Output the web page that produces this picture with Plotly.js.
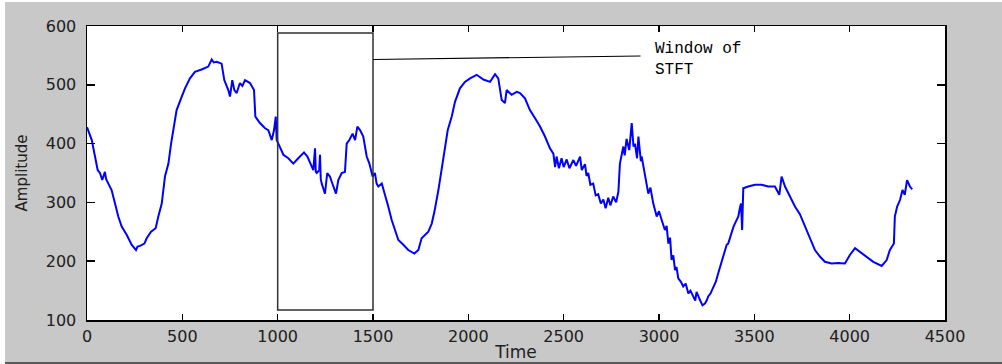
<!DOCTYPE html>
<html>
<head>
<meta charset="utf-8">
<script src="https://cdn.plot.ly/plotly-3.0.1.min.js"></script>
<style>
  html, body { margin: 0; padding: 0; background: #ffffff; }
  #wrap { position: absolute; left: 5px; top: 2px; width: 997px; height: 360px; background: #c8c8c8; border-bottom: 2px solid #5a5a5a; }
  #chart { width: 997px; height: 360px; }
</style>
</head>
<body>
<div id="wrap"><div id="chart"></div></div>
<script>
const time = [0,25,42,56,68,80,94,100,112,129,147,164,182,208,234,257,265,278,301,313,336,360,374,392,409,427,441,453,470,497,514,540,566,601,636,654,665,680,706,720,741,750,762,773,785,802,815,829,855,876,883,907,934,951,969,981,990,995,1009,1030,1056,1082,1108,1138,1156,1170,1187,1196,1200,1205,1218,1222,1226,1231,1248,1260,1274,1289,1306,1318,1336,1353,1362,1376,1393,1406,1418,1432,1449,1467,1481,1498,1510,1519,1528,1546,1563,1580,1598,1615,1633,1659,1685,1717,1738,1755,1790,1808,1822,1843,1860,1878,1892,1913,1930,1956,1982,2009,2044,2079,2114,2140,2157,2175,2192,2201,2227,2254,2271,2297,2323,2350,2376,2402,2428,2446,2455,2463,2475,2489,2500,2516,2530,2551,2565,2586,2595,2612,2620,2629,2640,2655,2668,2681,2695,2708,2720,2734,2745,2760,2775,2787,2795,2813,2820,2830,2844,2857,2866,2874,2885,2892,2905,2909,2926,2935,2944,2955,2970,2988,3000,3014,3031,3040,3049,3058,3066,3075,3084,3092,3101,3115,3127,3140,3154,3165,3180,3190,3197,3205,3215,3228,3241,3250,3258,3270,3285,3298,3311,3320,3328,3337,3346,3355,3363,3372,3381,3390,3398,3407,3416,3424,3430,3436,3442,3468,3503,3538,3573,3608,3631,3643,3652,3661,3687,3713,3739,3766,3792,3818,3844,3870,3905,3940,3975,4002,4028,4054,4089,4124,4168,4194,4211,4232,4237,4249,4264,4277,4289,4301,4316,4328];
const amplitude = [428,406,378,355,350,338,352,340,332,321,298,276,259,245,228,219,225,226,230,239,250,256,276,298,344,366,400,426,457,480,494,511,522,526,531,543,538,539,536,508,491,480,508,491,486,503,498,508,503,491,446,435,426,423,406,423,446,406,395,381,375,366,375,385,378,366,355,392,352,350,355,381,340,332,315,350,344,330,315,338,350,352,400,406,417,406,429,423,412,378,366,344,350,332,327,332,310,293,270,253,236,228,219,213,219,239,250,264,284,321,355,395,423,446,471,494,505,511,517,509,505,518,511,474,469,491,483,488,486,477,457,443,429,412,392,383,360,378,358,375,360,373,358,372,362,378,355,365,345,350,330,332,312,314,298,305,290,308,295,310,300,318,366,395,380,408,389,435,395,400,375,412,370,378,344,330,315,325,298,276,285,270,253,260,230,240,202,210,185,190,171,165,157,162,145,150,140,133,148,140,134,125,128,133,140,145,157,165,180,190,202,210,219,228,230,240,247,258,264,270,276,290,298,253,324,327,330,330,327,327,313,344,335,327,310,293,280,259,240,219,208,199,196,197,196,211,222,216,208,199,192,202,219,230,276,293,304,321,313,338,327,322];

const xTicks = [0,500,1000,1500,2000,2500,3000,3500,4000,4500];
const yTicks = [100,200,300,400,500,600];
const windowStart = 1000, windowEnd = 1500;
const windowLow = 117, windowHigh = 588;
const noteText = "Window of<br>STFT";

const trace = {
  x: time, y: amplitude, type: 'scatter', mode: 'lines',
  line: { color: '#0000ff', width: 2 }, hoverinfo: 'skip'
};

const tickFont = { family: 'DejaVu Sans, Arial, sans-serif', size: 16, color: '#202020' };

const layout = {
  width: 997, height: 360,
  margin: { l: 82, r: 57, t: 24, b: 42 },
  paper_bgcolor: 'rgba(0,0,0,0)',
  plot_bgcolor: '#ffffff',
  showlegend: false,
  xaxis: {
    range: [0, 4500], tickvals: xTicks, ticktext: xTicks.map(String),
    showgrid: false, zeroline: false, showline: true, linecolor: '#000', linewidth: 1.5,
    mirror: 'ticks', ticks: 'inside', ticklen: 6, tickcolor: '#000', tickwidth: 1.5,
    tickfont: tickFont, ticklabelstandoff: 1,
    title: { text: 'Time', font: { family: 'DejaVu Sans, Arial, sans-serif', size: 17, color: '#202020' }, standoff: 3 }
  },
  yaxis: {
    range: [100, 600], tickvals: yTicks, ticktext: yTicks.map(String),
    showgrid: false, zeroline: false, showline: true, linecolor: '#000', linewidth: 1.5,
    mirror: 'ticks', ticks: 'inside', ticklen: 8, tickcolor: '#000', tickwidth: 1.5,
    tickfont: tickFont, ticklabelstandoff: 6,
    title: { text: 'Amplitude', font: { family: 'DejaVu Sans, Arial, sans-serif', size: 15, color: '#202020' }, standoff: 14 }
  },
  shapes: [
    { type: 'rect', xref: 'x', yref: 'y', x0: windowStart, x1: windowEnd, y0: windowLow, y1: windowHigh,
      line: { color: '#303030', width: 1.5 }, fillcolor: 'rgba(0,0,0,0)' },
    { type: 'line', xref: 'x', yref: 'y', x0: windowEnd, y0: 543, x1: 2903, y1: 549,
      line: { color: '#000', width: 1.2 } }
  ],
  annotations: [
    { xref: 'x', yref: 'y', x: 2968, y: 579, xanchor: 'left', yanchor: 'top', align: 'left', showarrow: false,
      text: noteText, font: { family: 'Liberation Mono, Courier New, monospace', size: 16, color: '#000' } }
  ]
};

Plotly.newPlot('chart', [trace], layout, { staticPlot: true, displayModeBar: false });
</script>
</body>
</html>
